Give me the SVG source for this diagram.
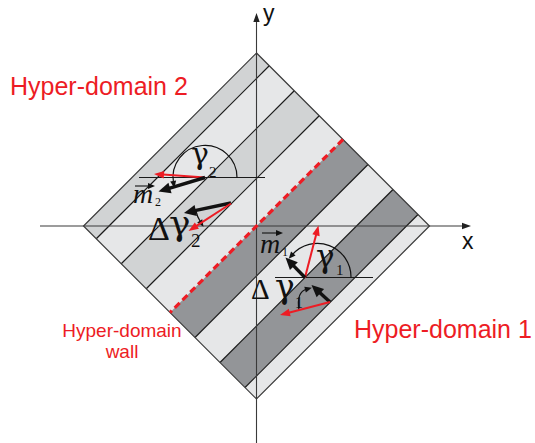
<svg xmlns="http://www.w3.org/2000/svg" width="535" height="443" viewBox="0 0 535 443">
<style>
.b1{fill:#d1d3d4}
.b2{fill:#e6e7e8}
.b3{fill:#939598}
.sl{stroke:#1a1a1a;stroke-width:1.2;fill:none}
.edge{fill:none;stroke:#3a3a3a;stroke-width:1.2}
.axis{stroke:#3a3a3a;stroke-width:1.1;fill:none}
.ref{stroke:#1a1a1a;stroke-width:1.1;fill:none}
.wall{stroke:#ed1c24;stroke-width:3.2;stroke-dasharray:7,4;fill:none}
.blk{stroke:#111;stroke-width:3.4;fill:none}
.red{stroke:#ed1c24;stroke-width:2;fill:none}
.arc{stroke:#111;stroke-width:1.2;fill:none}
.lab{font-family:"Liberation Sans",Arial,sans-serif;fill:#ed1c24}
.ax{font-family:"Liberation Sans",Arial,sans-serif;fill:#111}
.sym{font-family:"Liberation Serif","Times New Roman",serif;fill:#111}
.gam{font-family:"DejaVu Serif",serif;fill:#111}
.it{font-family:"Liberation Serif","Times New Roman",serif;font-style:italic;fill:#111}
</style>
<defs>
<marker id="hb" markerUnits="userSpaceOnUse" orient="auto" overflow="visible" refX="0" refY="0"><path d="M-1,-5.5 L11,0 L-1,5.5 z" fill="#111"/></marker>
<marker id="hr" markerUnits="userSpaceOnUse" orient="auto" overflow="visible" refX="0" refY="0"><path d="M-1,-3.8 L9,0 L-1,3.8 z" fill="#ed1c24"/></marker>
<marker id="ha" markerUnits="userSpaceOnUse" orient="auto" overflow="visible" refX="0" refY="0"><path d="M-1,-3.2 L8,0 L-1,3.2 z" fill="#222"/></marker>
<marker id="hs" markerUnits="userSpaceOnUse" orient="auto" overflow="visible" refX="0" refY="0"><path d="M-2,-3 L5,0 L-2,3 z" fill="#111"/></marker>
</defs>

<g id="hyper-domain-2">
<polygon class="b1" points="256.5,53 269.25,65.75 96.25,238.75 83.5,226"/>
<polygon class="b2" points="269.25,65.75 294.25,90.75 121.25,263.75 96.25,238.75"/>
<polygon class="b1" points="294.25,90.75 319.25,115.75 146.25,288.75 121.25,263.75"/>
<polygon class="b2" points="319.25,115.75 343,139.5 170,312.5 146.25,288.75"/>
</g>
<g id="hyper-domain-1">
<polygon class="b3" points="343,139.5 368,164.5 195,337.5 170,312.5"/>
<polygon class="b2" points="368,164.5 393,189.5 220,362.5 195,337.5"/>
<polygon class="b3" points="393,189.5 418,214.5 245,387.5 220,362.5"/>
<polygon class="b2" points="418,214.5 429.5,226 256.5,399 245,387.5"/>
</g>
<g id="stripe-lines">
<line class="sl" x1="269.25" y1="65.75" x2="96.25" y2="238.75"/>
<line class="sl" x1="294.25" y1="90.75" x2="121.25" y2="263.75"/>
<line class="sl" x1="319.25" y1="115.75" x2="146.25" y2="288.75"/>
<line class="sl" x1="368" y1="164.5" x2="195" y2="337.5"/>
<line class="sl" x1="393" y1="189.5" x2="220" y2="362.5"/>
<line class="sl" x1="418" y1="214.5" x2="245" y2="387.5"/>
<polygon class="edge" points="256.5,53 429.5,226 256.5,399 83.5,226"/>
</g>

<g id="axes">
<line class="axis" x1="40" y1="226" x2="463" y2="226" marker-end="url(#ha)"/>
<line class="axis" x1="256.5" y1="443" x2="256.5" y2="21" marker-end="url(#ha)"/>
<text class="ax" x="462" y="249" font-size="23">x</text>
<text class="ax" x="263" y="21" font-size="23">y</text>
</g>

<g id="hyper-domain-wall">
<line class="wall" x1="343" y1="139.5" x2="170" y2="312.5"/>
</g>

<g id="connectors">
<line class="ref" x1="139" y1="177.5" x2="265" y2="177.5"/>
<line class="ref" x1="275" y1="277.5" x2="373" y2="277.5"/>
<path class="arc" d="M237,177.5 A32,32 0 1 0 173.5,183" marker-end="url(#hs)"/>
<path class="arc" d="M351,277.5 A33.6,33.6 0 0 0 292,255" marker-end="url(#hs)"/>
<path class="arc" d="M195.8,210.5 A36,36 0 0 0 200.8,222.5" marker-end="url(#hs)"/>
<path class="arc" d="M299,310 Q296,292 307,289" marker-end="url(#hs)"/>
<line class="red" x1="205" y1="177.5" x2="162.98" y2="174.61" marker-end="url(#hr)"/>
<line class="blk" x1="205" y1="177.5" x2="169.04" y2="188.33" marker-end="url(#hb)"/>
<line class="blk" x1="231" y1="203" x2="194.76" y2="210.71" marker-end="url(#hb)"/>
<line class="red" x1="231" y1="203.5" x2="196.06" y2="226.11" marker-end="url(#hr)"/>
<line class="red" x1="305" y1="277.5" x2="316.24" y2="234.21" marker-end="url(#hr)"/>
<line class="blk" x1="305" y1="277.5" x2="293.18" y2="265.38" marker-end="url(#hb)"/>
<line class="blk" x1="330" y1="302" x2="319.61" y2="292.45" marker-end="url(#hb)"/>
<line class="red" x1="330" y1="302" x2="288.71" y2="312.73" marker-end="url(#hr)"/>
<line stroke="#111" stroke-width="1.1" x1="135" y1="186" x2="150" y2="186" marker-end="url(#hs)"/>
<line stroke="#111" stroke-width="1.1" x1="262" y1="233" x2="278" y2="233" marker-end="url(#hs)"/>
</g>

<g id="symbols">
<text class="gam" x="191" y="164" font-size="30">γ</text>
<text class="sym" x="209" y="177" font-size="15">2</text>
<text class="it" x="133" y="203" font-size="28">m</text>
<text class="sym" x="155" y="206" font-size="12">2</text>
<text class="sym" x="148" y="240" font-size="34">Δ</text>
<text class="gam" x="169" y="235" font-size="36">γ</text>
<text class="sym" x="191" y="247" font-size="19">2</text>
<text class="it" x="260" y="253" font-size="28">m</text>
<text class="sym" x="282" y="256" font-size="12">1</text>
<text class="gam" x="316" y="267" font-size="31">γ</text>
<text class="sym" x="336" y="275" font-size="15">1</text>
<text class="sym" x="251" y="299" font-size="29">Δ</text>
<text class="gam" x="275" y="298" font-size="33">γ</text>
<text class="sym" x="295" y="308" font-size="16">1</text>
</g>

<g id="labels">
<text class="lab" x="10" y="95" font-size="25">Hyper-domain 2</text>
<text class="lab" x="354" y="338" font-size="25">Hyper-domain 1</text>
<text class="lab" x="122" y="337" font-size="19" text-anchor="middle">Hyper-domain</text>
<text class="lab" x="122" y="358" font-size="19" text-anchor="middle">wall</text>
</g>
</svg>
